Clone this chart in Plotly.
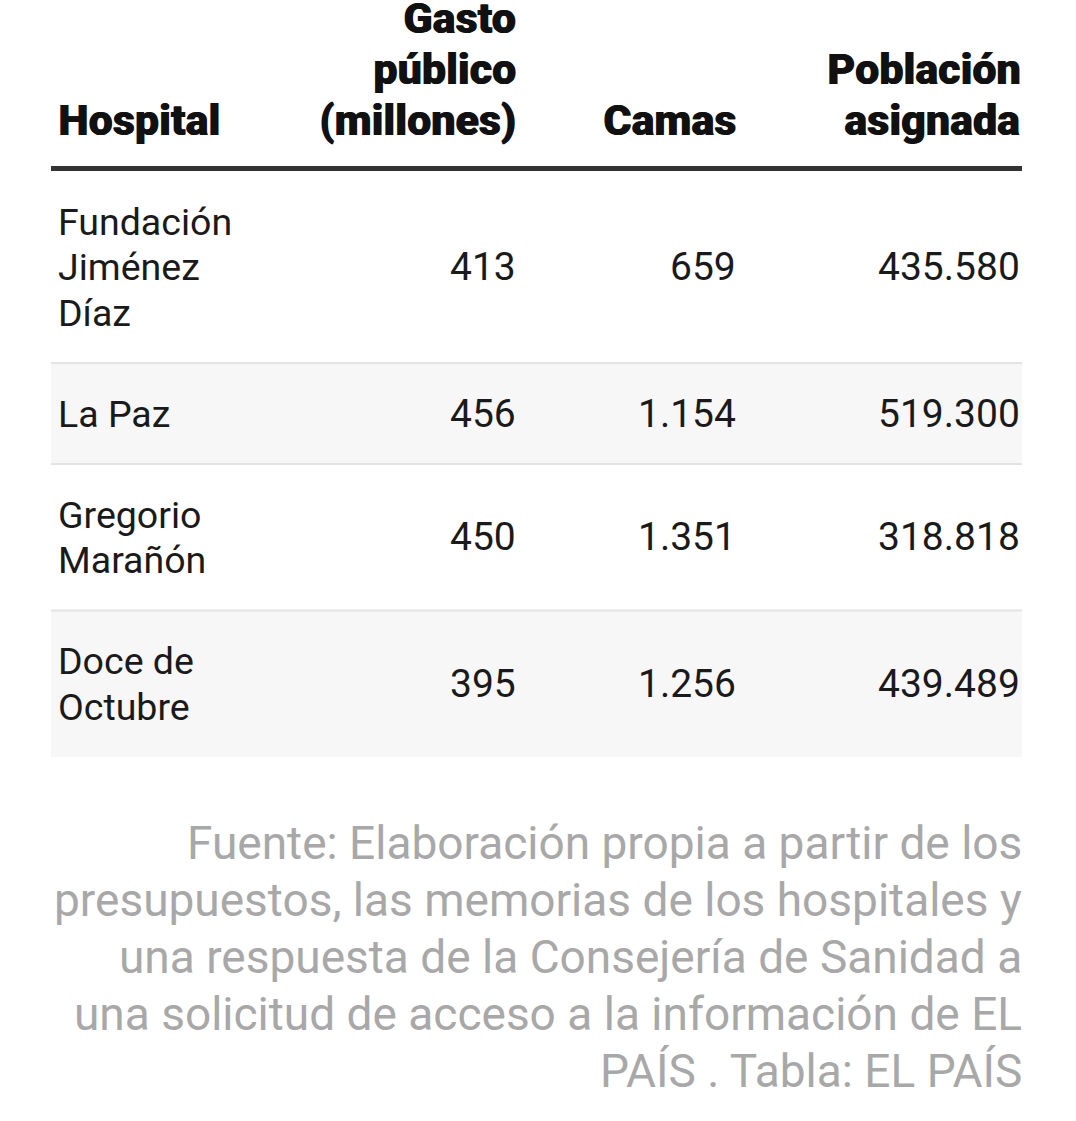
import plotly.graph_objects as go

# ---- data ----
header_labels = ["Hospital", "Gasto<br>público<br>(millones)", "Camas", "Población<br>asignada"]
hospitals = ["Fundación<br>Jiménez<br>Díaz", "La Paz", "Gregorio<br>Marañón", "Doce de<br>Octubre"]
gasto = [413, 456, 450, 395]
camas = [659, 1154, 1351, 1256]
poblacion = [435580, 519300, 318818, 439489]
source_lines = [
    "Fuente: Elaboración propia a partir de los",
    "presupuestos, las memorias de los hospitales y",
    "una respuesta de la Consejería de Sanidad a",
    "una solicitud de acceso a la información de EL",
    "PAÍS . Tabla: EL PAÍS",
]

# ---- layout constants (pixels of the page) ----
W, H = 1076, 1121
TABLE_L, TABLE_R = 51, 1022
COL_X = [56, 518, 738, 1022]          # anchor of each column's text
COL_ALIGN = ["left", "right", "right", "right"]
HEAD_LAST_MID = 120                   # mid of header's last line
HEAD_LS = 51                          # header line spacing
HEAD_RULE_Y = 168.5
BODY_TOP = 171
BODY_LS = 45.5
ROW_PAD = 55.5
SRC_TOP_MID = 843
SRC_LS = 57
SRC_RIGHT = 1024

HEAD_FONT = dict(family="Roboto", size=43, color="#111111", weight=900,
                 shadow="0.8px 0px 0px #111111")
NAME_FONT = dict(family="Roboto", size=37.5, color="#1a1a1a")
NUM_FONT = dict(family="Roboto", size=39, color="#1a1a1a")
SRC_FONT = dict(family="Roboto", size=46, color="#a8a8a8")


def fmt(n):
    return f"{n:,}".replace(",", ".")


fig = go.Figure()
annotations = []
shapes = []


def add_lines(text, x, y_mid_first, ls, align, font):
    for i, line in enumerate(text.split("<br>")):
        annotations.append(dict(
            x=x, y=y_mid_first + i * ls, xref="x", yref="y",
            text=line, showarrow=False, xanchor=align, yanchor="middle",
            align=align, font=font,
        ))


# header
for c, lab in enumerate(header_labels):
    n = len(lab.split("<br>"))
    add_lines(lab, COL_X[c], HEAD_LAST_MID - (n - 1) * HEAD_LS, HEAD_LS, COL_ALIGN[c], HEAD_FONT)

# body rows
y = BODY_TOP
rows = list(zip(hospitals, gasto, camas, poblacion))
for r, (hname, g, cm, p) in enumerate(rows):
    n = len(hname.split("<br>"))
    h = ROW_PAD + BODY_LS * n
    mid = y + h / 2
    if r % 2 == 1:
        shapes.append(dict(type="rect", xref="x", yref="y", x0=TABLE_L, x1=TABLE_R,
                           y0=y, y1=y + h, fillcolor="#f7f7f7", line=dict(width=0), layer="below"))
    if r > 0:
        shapes.append(dict(type="line", xref="x", yref="y", x0=TABLE_L, x1=TABLE_R,
                           y0=y, y1=y, line=dict(color="#e3e3e3", width=2)))
    add_lines(hname, COL_X[0], mid - (n - 1) * BODY_LS / 2, BODY_LS, "left", NAME_FONT)
    for c, val in zip([1, 2, 3], [g, cm, p]):
        add_lines(fmt(val), COL_X[c], mid, BODY_LS, "right", NUM_FONT)
    y += h

# header rule
shapes.append(dict(type="line", xref="x", yref="y", x0=TABLE_L, x1=TABLE_R,
                   y0=HEAD_RULE_Y, y1=HEAD_RULE_Y, line=dict(color="#333333", width=5)))

# source
for i, line in enumerate(source_lines):
    annotations.append(dict(
        x=SRC_RIGHT, y=SRC_TOP_MID + i * SRC_LS, xref="x", yref="y", text=line,
        showarrow=False, xanchor="right", yanchor="middle", font=SRC_FONT,
    ))

fig.update_layout(
    width=W, height=H,
    margin=dict(l=0, r=0, t=0, b=0),
    paper_bgcolor="white", plot_bgcolor="white",
    xaxis=dict(range=[0, W], visible=False, fixedrange=True),
    yaxis=dict(range=[H, 0], visible=False, fixedrange=True),
    annotations=annotations, shapes=shapes, showlegend=False,
)
fig.write_html(
    "out.html",
    config={"displayModeBar": False},
    post_script="document.body.style.margin='0';document.body.style.overflow='hidden';",
)
